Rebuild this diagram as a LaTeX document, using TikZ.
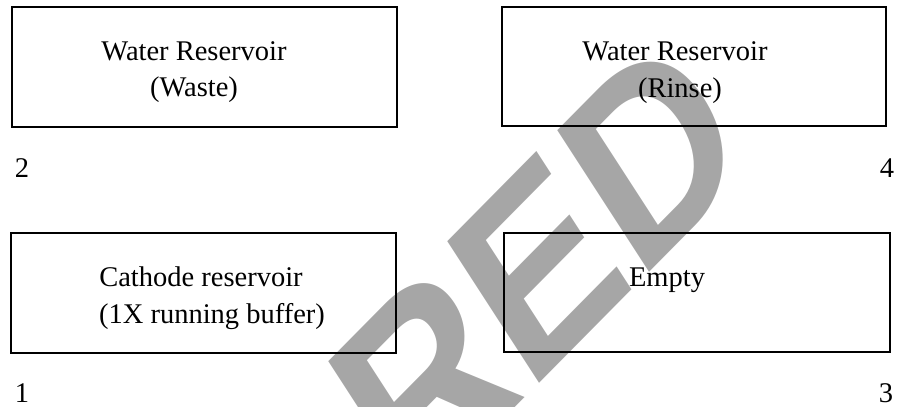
\documentclass[tikz,border=0pt]{standalone}
\usepackage{fontspec}
\setmainfont{Liberation Serif}
\newfontfamily\wmfont{Liberation Sans}
\definecolor{wmgray}{RGB}{166,166,166}
\tikzset{
  box/.style={draw=black, line width=2.2bp, rectangle, inner sep=0pt},
  lbl/.style={anchor=base, inner sep=0pt, font=\fontsize{28.6}{34}\selectfont},
  wmark/.style={text=wmgray, inner sep=0pt, anchor=center, transform shape, font=\wmfont\bfseries\fontsize{266}{280}\selectfont}
}
\begin{document}
\begin{tikzpicture}[x=1bp,y=-1bp]
\useasboundingbox (0,0) rectangle (897,406);
% watermark (under everything)
\begin{scope}[xscale=0.8]
\node[wmark, rotate=39] (wm) at (672.5,268) {RED};
\end{scope}
% boxes
\node[box, minimum width=385bp, minimum height=120bp] (waste) at (204.5,67) {};
\node[box, minimum width=385bp, minimum height=120bp] (cathode) at (203.5,293) {};
\node[box, minimum width=384bp, minimum height=119bp] (rinse) at (694,66.5) {};
\node[box, minimum width=386bp, minimum height=119bp] (empty) at (697,292.5) {};
% texts
\node[lbl] (t1a) at (194,60) {Water Reservoir};
\node[lbl] (t1b) at (194,96) {(Waste)};
\node[lbl] (t2a) at (201,286) {Cathode reservoir};
\node[lbl] (t2b) at (212,323) {(1X running buffer)};
\node[lbl] (t4a) at (675,60) {Water Reservoir};
\node[lbl] (t4b) at (680,97) {(Rinse)};
\node[lbl] (t3) at (667,286) {Empty};
% numbers
\node[lbl] (n2) at (22,177) {2};
\node[lbl] (n1) at (22,402) {1};
\node[lbl] (n4) at (887,177) {4};
\node[lbl] (n3) at (886,402) {3};
\end{tikzpicture}
\end{document}
